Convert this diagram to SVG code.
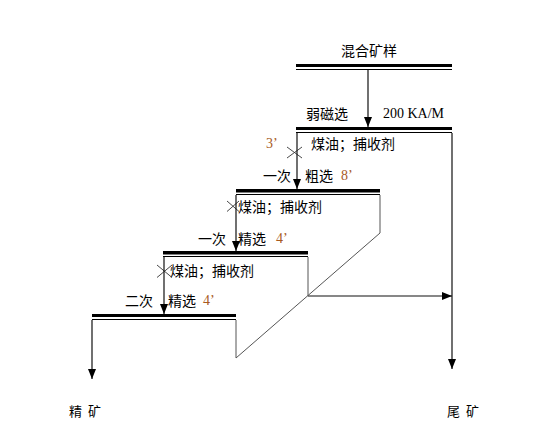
<svg xmlns="http://www.w3.org/2000/svg" width="549" height="422" viewBox="0 0 549 422">
<style>
  .cn{font-family:"Noto Sans CJK SC","Noto Sans",sans-serif;font-size:14px;fill:#000}
  .num{font-family:"Liberation Serif","Times New Roman",serif;font-size:14px;fill:#000}
  .min{font-family:"Liberation Serif","Times New Roman",serif;font-size:14px;fill:#a85a1e}
  .end{font-size:13px;word-spacing:3px}
  .bar{fill:#000}
  .thin{stroke:#000;stroke-width:1;fill:none}
  .side{stroke:#555;stroke-width:1;fill:none}
  .flow{stroke:#111;stroke-width:1.2;fill:none;marker-end:url(#ah)}
  .x{stroke:#333;stroke-width:0.9;fill:none}
</style>
<defs>
  <marker id="ah" markerUnits="userSpaceOnUse" markerWidth="10" markerHeight="8" refX="10" refY="4" orient="auto">
    <path d="M0,0 L10,4 L0,8 z" fill="#000"/>
  </marker>
</defs>
<rect width="549" height="422" fill="#fff"/>

<g id="feed">
  <text class="cn" x="341" y="56">混合矿样</text>
  <rect class="bar" x="296" y="64" width="156" height="3"/>
  <line class="thin" x1="296" y1="69.5" x2="452" y2="69.5"/>
</g>

<g id="magnetic">
  <text class="cn" x="306" y="119">弱磁选</text>
  <text class="num" x="383" y="117.5">200 KA/M</text>
  <rect class="bar" x="296" y="127" width="156" height="3"/>
  <line class="thin" x1="296" y1="132.5" x2="452" y2="132.5"/>
  <text class="min" x="266" y="148">3’</text>
  <text class="cn" x="311" y="149">煤油；捕收剂</text>
  <path class="x" d="M287,147 L302,158 M287,158 L302,147"/>
</g>

<g id="rougher">
  <text class="cn" x="263" y="181">一次</text>
  <text class="cn" x="305" y="181">粗选</text>
  <text class="min" x="341" y="180">8’</text>
  <rect class="bar" x="236" y="189" width="144" height="3.5"/>
  <line class="thin" x1="236" y1="194.5" x2="380" y2="194.5"/>
  <text class="cn" x="238" y="212">煤油；捕收剂</text>
  <path class="x" d="M227,201 L239,211.5 M227,211.5 L239,201"/>
</g>

<g id="cleaner1">
  <text class="cn" x="198" y="244">一次</text>
  <text class="cn" x="238" y="244">精选</text>
  <text class="min" x="276" y="243">4’</text>
  <rect class="bar" x="163" y="251" width="145" height="3.5"/>
  <line class="thin" x1="163" y1="256.5" x2="308" y2="256.5"/>
  <text class="cn" x="170" y="276">煤油；捕收剂</text>
  <path class="x" d="M157,265 L172,277.5 M157,277.5 L172,265"/>
</g>

<g id="cleaner2">
  <text class="cn" x="125" y="306">二次</text>
  <text class="cn" x="168" y="306">精选</text>
  <text class="min" x="203" y="305">4’</text>
  <rect class="bar" x="92" y="314" width="144" height="3"/>
  <line class="thin" x1="92" y1="319.5" x2="236" y2="319.5"/>
</g>

<g id="concentrate">
  <text class="cn end" x="69" y="416">精 矿</text>
</g>

<g id="tailings">
  <text class="cn end" x="447" y="416">尾 矿</text>
</g>

<g id="connectors">
  <line class="flow" x1="368" y1="70" x2="368" y2="127"/>
  <line class="flow" x1="297" y1="133" x2="297" y2="189"/>
  <line class="flow" x1="236" y1="195" x2="236" y2="251"/>
  <line class="flow" x1="164" y1="257" x2="164" y2="314"/>
  <line class="flow" x1="92" y1="320" x2="92" y2="379"/>
  <line class="flow" x1="452" y1="133" x2="452" y2="369"/>
  <line class="flow" x1="308" y1="296" x2="452" y2="296"/>
  <path class="side" d="M380,195 L380,233 L236,358 L236,320"/>
  <path class="side" d="M308,257 L308,296"/>
</g>
</svg>
